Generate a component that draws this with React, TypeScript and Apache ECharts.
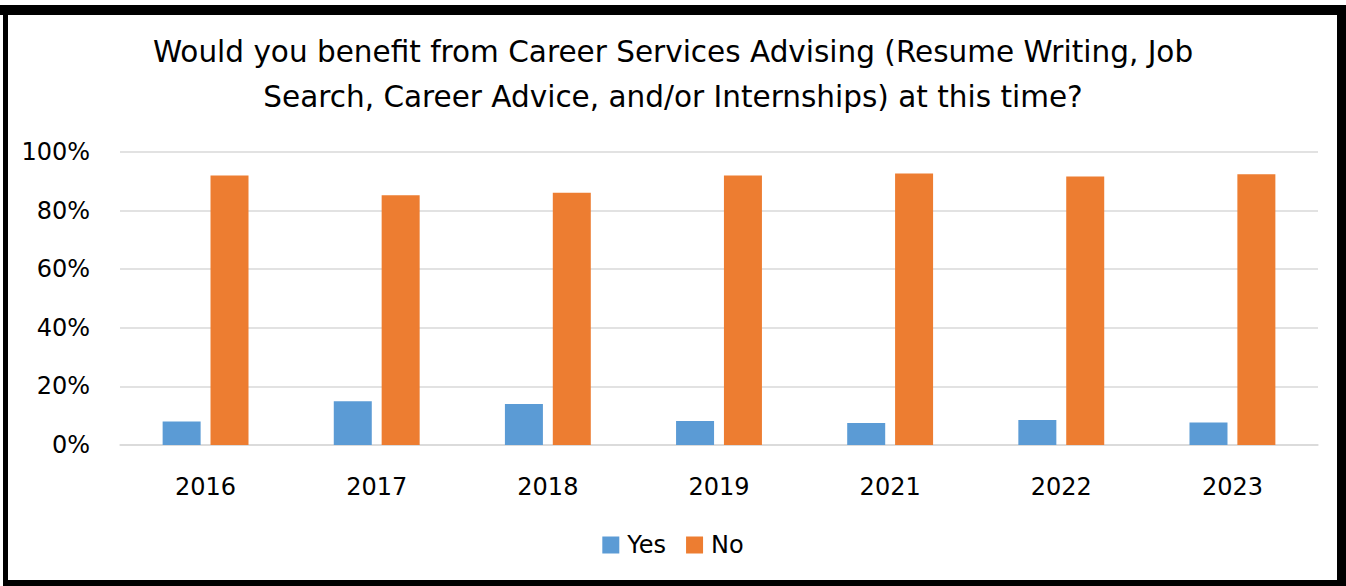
import React, { useEffect, useRef } from "react";
import * as echarts from "echarts";

const categories = ["2016", "2017", "2018", "2019", "2021", "2022", "2023"];
const yesValues = [8.0, 14.9, 14.0, 8.2, 7.5, 8.5, 7.7];
const noValues = [92.0, 85.2, 86.1, 92.0, 92.7, 91.6, 92.4];
const seriesNames = ["Yes", "No"];
const titleText =
  "Would you benefit from Career Services Advising (Resume Writing, Job\nSearch, Career Advice, and/or Internships) at this time?";

const FONT = "'DejaVu Sans', sans-serif";

export default function App() {
  const ref = useRef<HTMLDivElement>(null);
  useEffect(() => {
    if (!ref.current) return;
    const chart = echarts.init(ref.current, null, { renderer: "svg" });
    chart.setOption({
      animation: false,
      backgroundColor: "#ffffff",
      textStyle: { fontFamily: FONT },
      title: {
        text: titleText,
        left: "center",
        top: 24,
        textStyle: {
          fontFamily: FONT,
          fontSize: 29.5,
          fontWeight: "normal",
          color: "#000000",
          lineHeight: 45,
          align: "center",
        },
      },
      legend: {
        data: seriesNames,
        bottom: 24,
        left: "center",
        itemWidth: 17,
        itemHeight: 17,
        itemGap: 20,
        icon: "rect",
        textStyle: { fontFamily: FONT, fontSize: 24, color: "#000000", padding: [0, 0, 0, 3] },
      },
      grid: { left: 120, right: 28, top: 152, bottom: 141, containLabel: false },
      xAxis: {
        type: "category",
        data: categories,
        axisLine: { lineStyle: { color: "#D9D9D9", width: 1.5 } },
        axisTick: { show: false },
        axisLabel: { fontFamily: FONT, fontSize: 24, color: "#000000", margin: 30 },
      },
      yAxis: {
        type: "value",
        min: 0,
        max: 100,
        interval: 20,
        axisLine: { show: false },
        axisTick: { show: false },
        splitLine: { lineStyle: { color: "#D9D9D9", width: 1.5 } },
        axisLabel: {
          fontFamily: FONT,
          fontSize: 24,
          color: "#000000",
          margin: 30,
          formatter: (v: number) => `${v}%`,
        },
      },
      series: [
        {
          name: seriesNames[0],
          type: "bar",
          data: yesValues,
          barWidth: 38,
          barGap: "26%",
          itemStyle: { color: "#5B9BD5" },
        },
        {
          name: seriesNames[1],
          type: "bar",
          data: noValues,
          barWidth: 38,
          barGap: "26%",
          itemStyle: { color: "#ED7D31" },
        },
      ],
      graphic: [
        { type: "rect", shape: { x: 0, y: 5, width: 1346, height: 10 }, style: { fill: "#000" } },
        { type: "rect", shape: { x: 3, y: 5, width: 5, height: 581 }, style: { fill: "#000" } },
        { type: "rect", shape: { x: 1337, y: 5, width: 9, height: 581 }, style: { fill: "#000" } },
        { type: "rect", shape: { x: 3, y: 580, width: 1343, height: 6 }, style: { fill: "#000" } },
      ],
    });
    return () => chart.dispose();
  }, []);
  return (
    <div
      ref={ref}
      style={{ position: "fixed", left: 0, top: 0, width: 1346, height: 586 }}
    />
  );
}
